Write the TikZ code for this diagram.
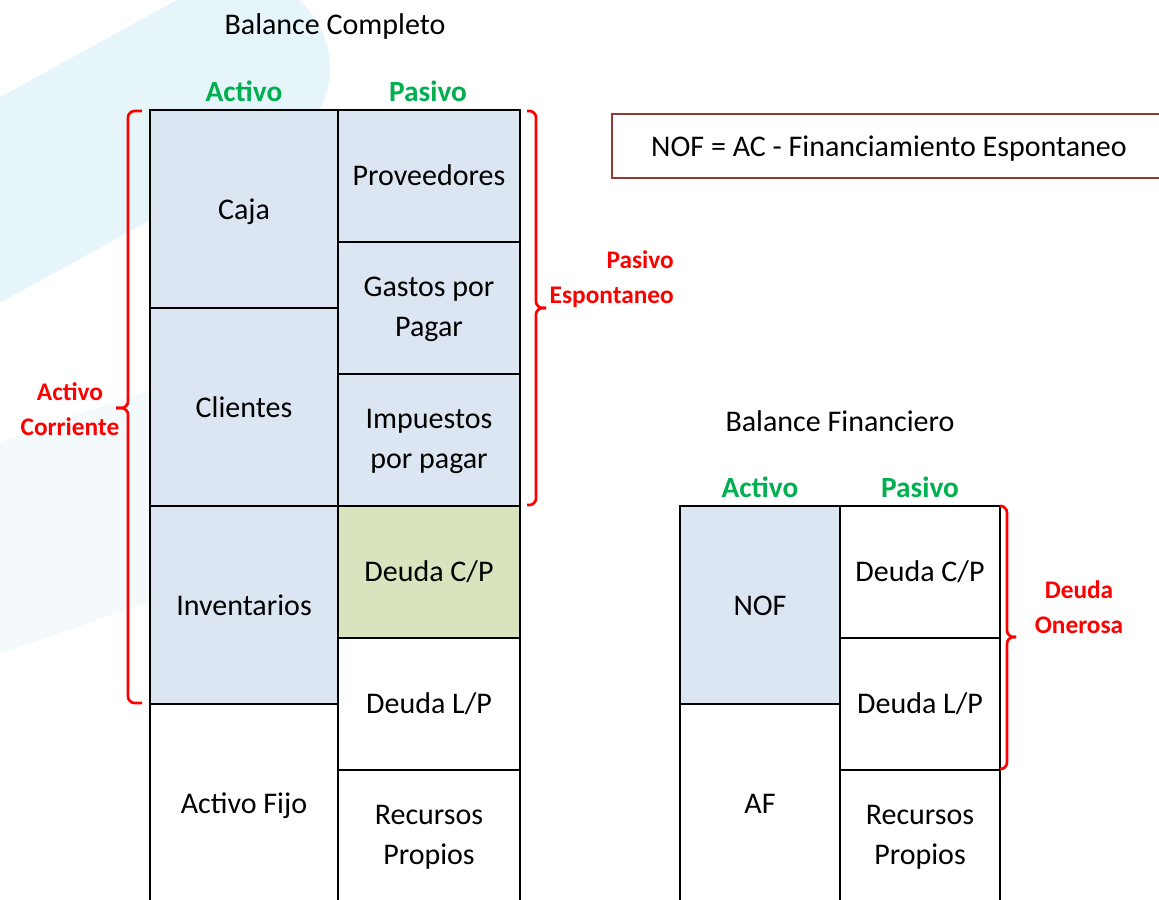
\documentclass[tikz,border=0pt]{standalone}
\usepackage{fontspec}
\setmainfont{Carlito}
\usetikzlibrary{fit}
\definecolor{cellblue}{HTML}{DCE6F2}
\definecolor{cellgreen}{HTML}{D7E4BD}
\definecolor{hdrgreen}{HTML}{00B050}
\definecolor{brred}{HTML}{FF0000}
\definecolor{nofred}{HTML}{953735}
\definecolor{wmA}{RGB}{229,245,249}
\definecolor{wmB}{RGB}{244,250,252}
\begin{document}
\begin{tikzpicture}[x=0.75pt,y=-0.75pt,
  cell/.style={draw=black,line width=1.5pt,inner sep=0pt,outer sep=0pt},
  txt/.style={font=\fontsize{22.5}{30}\selectfont,align=center,anchor=base,inner sep=0pt},
  hdr/.style={font=\fontsize{22}{26}\selectfont\bfseries,text=hdrgreen,anchor=base,inner sep=0pt},
  lbl/.style={font=\fontsize{19}{26}\selectfont\bfseries,text=brred,align=center,anchor=base,inner sep=0pt},
  brace/.style={draw=brred,line width=2pt,rounded corners=5pt}]
\clip (0,0) rectangle (1159,899);
% watermark
\draw[wmA, line width=135pt, line cap=round] (-80,244) -- (240,68);
\draw[wmB, line width=150pt, line cap=round] (-100,583) -- (200,478);
% Balance Completo - Activo
\node[cell,fill=cellblue,fit={(150,110)(338,308)}] (caja) {};
\node[cell,fill=cellblue,fit={(150,308)(338,506)}] (clientes) {};
\node[cell,fill=cellblue,fit={(150,506)(338,704)}] (invent) {};
\node[cell,fill=white,fit={(150,704)(338,902)}] (afijo) {};
% Balance Completo - Pasivo
\node[cell,fill=cellblue,fit={(338,110)(520,242)}] (prov) {};
\node[cell,fill=cellblue,fit={(338,242)(520,374)}] (gastos) {};
\node[cell,fill=cellblue,fit={(338,374)(520,506)}] (impuestos) {};
\node[cell,fill=cellgreen,fit={(338,506)(520,638)}] (dcp) {};
\node[cell,fill=white,fit={(338,638)(520,770)}] (dlp) {};
\node[cell,fill=white,fit={(338,770)(520,902)}] (rp) {};
% Balance Financiero
\node[cell,fill=cellblue,fit={(680,506)(840,704)}] (nof) {};
\node[cell,fill=white,fit={(680,704)(840,902)}] (af) {};
\node[cell,fill=white,fit={(840,506)(1000,638)}] (dcpB) {};
\node[cell,fill=white,fit={(840,638)(1000,770)}] (dlpB) {};
\node[cell,fill=white,fit={(840,770)(1000,902)}] (rpB) {};
% cell texts (base = last line baseline)
\node[txt] (cajaT) at ([yshift=-8pt]caja.center) {Caja};
\node[txt] (clientesT) at ([yshift=-8pt]clientes.center) {Clientes};
\node[txt] (inventT) at ([yshift=-7.5pt]invent.center) {Inventarios};
\node[txt] (afijoT) at ([yshift=-7.5pt]afijo.center) {Activo Fijo};
\node[txt] (provT) at ([yshift=-7pt]prov.center) {Proveedores};
\node[txt] (gastosT) at ([yshift=-21pt]gastos.center) {Gastos por\\Pagar};
\node[txt] (impuestosT) at ([yshift=-21pt]impuestos.center) {Impuestos\\por pagar};
\node[txt] (dcpT) at ([yshift=-7pt]dcp.center) {Deuda C/P};
\node[txt] (dlpT) at ([yshift=-7pt]dlp.center) {Deuda L/P};
\node[txt] (rpT) at ([yshift=-21.5pt]rp.center) {Recursos\\Propios};
\node[txt] (nofT) at ([yshift=-7.5pt]nof.center) {NOF};
\node[txt] (afT) at ([yshift=-7.5pt]af.center) {AF};
\node[txt] (dcpBT) at ([yshift=-7pt]dcpB.center) {Deuda C/P};
\node[txt] (dlpBT) at ([yshift=-7pt]dlpB.center) {Deuda L/P};
\node[txt] (rpBT) at ([yshift=-21.5pt]rpB.center) {Recursos\\Propios};
% titles and headers
\node[txt] (titleA) at (335,35) {Balance Completo};
\node[txt] (titleB) at (840,431) {Balance Financiero};
\node[hdr] (actA) at (244,101) {Activo};
\node[hdr] (pasA) at (428,101) {Pasivo};
\node[hdr] (actB) at (760,497) {Activo};
\node[hdr] (pasB) at (920,497) {Pasivo};
% NOF formula box
\node[draw=nofred,line width=2pt,inner sep=0pt,fit={(612,114)(1175,178)}] (nofbox) {};
\node[txt] (noftxt) at (889,156) {NOF = AC - Financiamiento Espontaneo};
% braces
\draw[brace] (142,111) -| (128,408) -- (116,408);
\draw[brace] (116,408) -- (128,408) |- (142,703);
\draw[brace] (527,111) -| (536,308) -- (546,308);
\draw[brace] (546,308) -- (536,308) |- (527,505);
\draw[brace] (1000,506) -| (1007,637) -- (1016,637);
\draw[brace] (1016,637) -- (1007,637) |- (1000,769);
% brace labels (base = last line baseline)
\node[lbl] (acL) at (70,435) {Activo\\Corriente};
\node[lbl,align=right,anchor=base east] (peL) at (674,303) {Pasivo\\Espontaneo};
\node[lbl] (doL) at (1079,633) {Deuda\\Onerosa};
\end{tikzpicture}
\end{document}
